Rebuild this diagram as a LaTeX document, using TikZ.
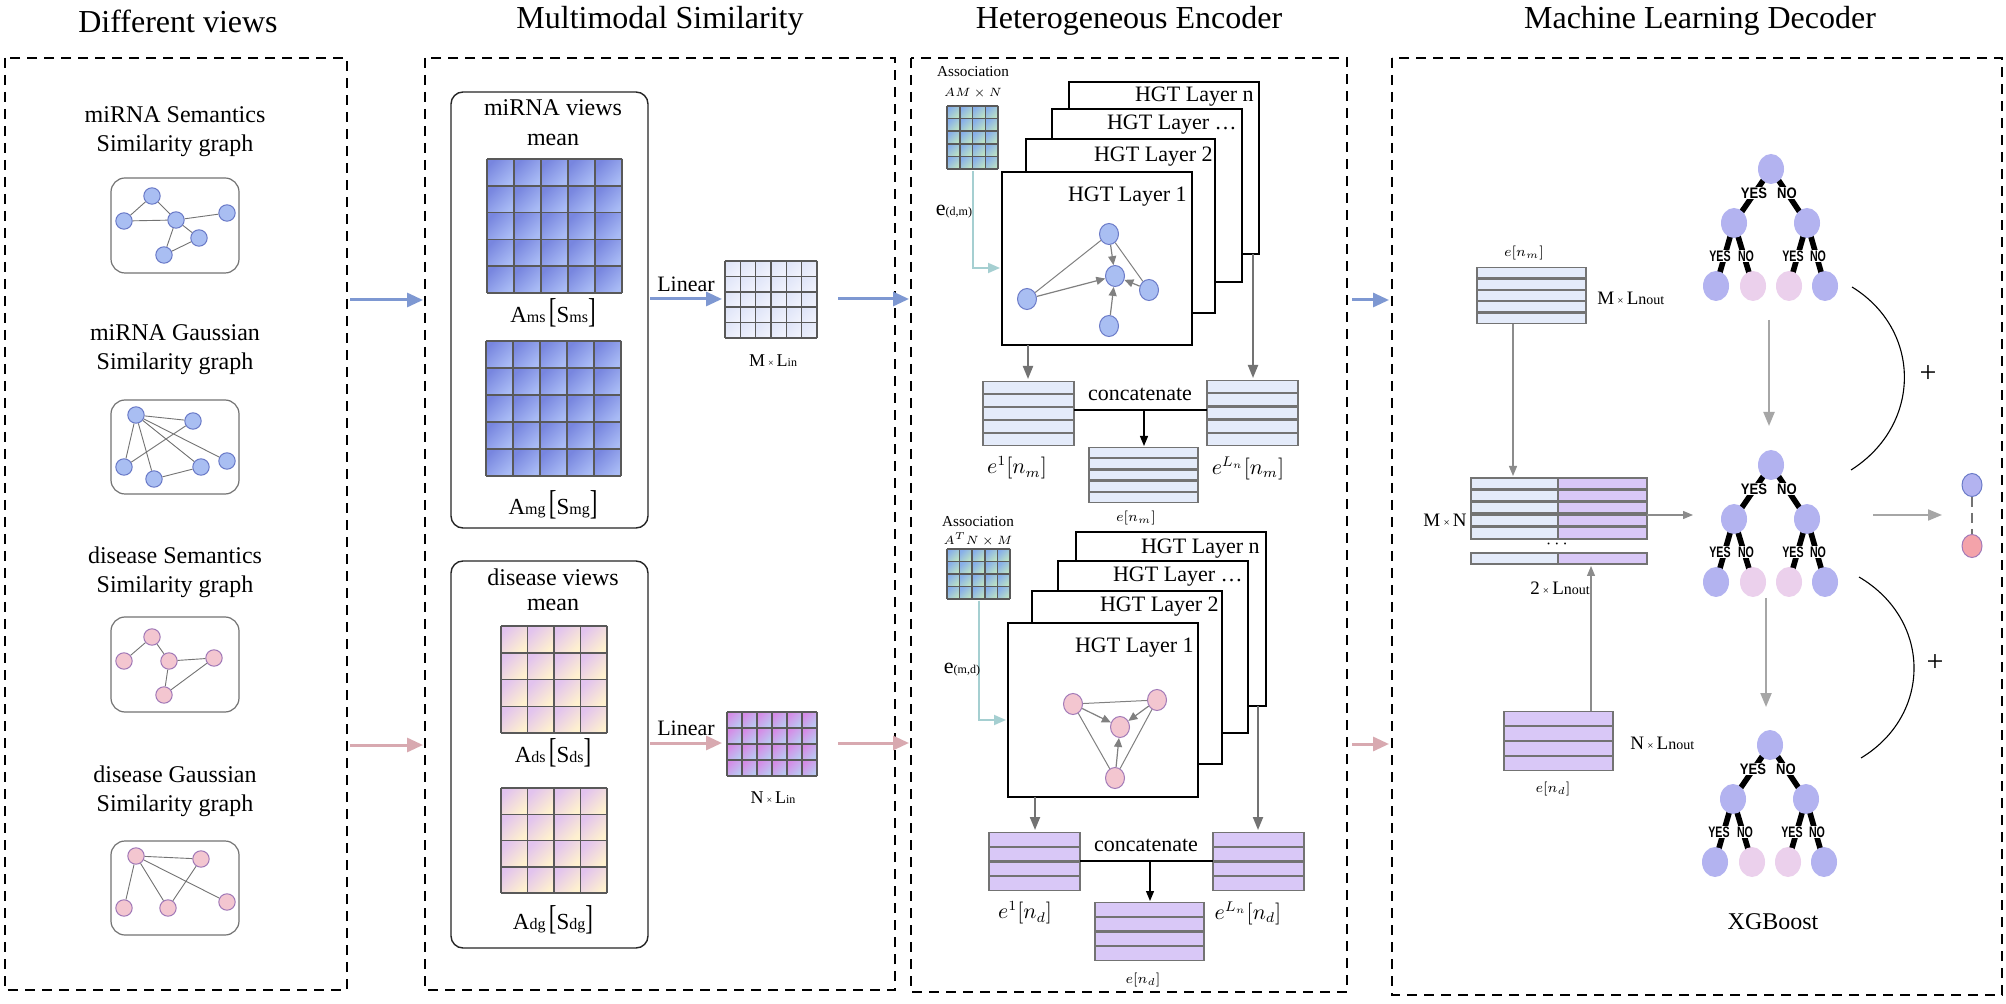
\documentclass[tikz,border=0pt]{standalone}
\usepackage{fontspec}
\usepackage{graphicx}
\setmainfont{Liberation Serif}
\newfontfamily\yesfont{Liberation Sans}
\usetikzlibrary{arrows.meta,shapes.geometric,backgrounds}

\definecolor{gnodeB}{HTML}{A9BEF2}
\definecolor{gnodeBd}{HTML}{6B7BC8}
\definecolor{gnodeP}{HTML}{F3C6D0}
\definecolor{gnodePd}{HTML}{A27AB8}
\definecolor{arrB}{HTML}{7E98D2}
\definecolor{arrP}{HTML}{D8A9B0}
\definecolor{matBa}{HTML}{7886DF}
\definecolor{matBb}{HTML}{A9BBF5}
\definecolor{matDa}{HTML}{E2C3EE}
\definecolor{matDb}{HTML}{FFF1CF}
\definecolor{matNa}{HTML}{D58BE6}
\definecolor{matNb}{HTML}{B9CBF2}
\definecolor{matMa}{HTML}{E0E5F8}
\definecolor{matMb}{HTML}{F0F2FC}
\definecolor{matAa}{HTML}{86AEEA}
\definecolor{matAb}{HTML}{BDE3C4}
\definecolor{barB}{HTML}{E4EBFA}
\definecolor{barP}{HTML}{D9C8F7}
\definecolor{treeB}{HTML}{B3B3F0}
\definecolor{treeP}{HTML}{EBD0EC}
\definecolor{outP}{HTML}{F4A3AA}
\definecolor{tealc}{HTML}{A5CFD1}

\tikzset{
 panel/.style={draw=black, line width=1pt, dash pattern=on 5pt off 3.5pt},
 ptitle/.style={font=\fontsize{16}{18}\selectfont, inner sep=0},
 lbl/.style={font=\fontsize{12}{14.5}\selectfont, align=center, inner sep=0},
 gbox/.style={draw=black!55, line width=0.6pt, rounded corners=7pt},
 vbox/.style={draw=black!85, line width=0.7pt, rounded corners=6pt},
 gnb/.style={circle, draw=gnodeBd, fill=gnodeB, line width=0.5pt, minimum size=8.2pt, inner sep=0},
 gnp/.style={circle, draw=gnodePd, fill=gnodeP, line width=0.5pt, minimum size=8.2pt, inner sep=0},
 gedge/.style={draw=black!55, line width=0.45pt},
 hnb/.style={ellipse, draw=gnodeBd, fill=gnodeB, line width=0.5pt, minimum width=9.5pt, minimum height=10.5pt, inner sep=0},
 hnp/.style={ellipse, draw=gnodePd, fill=gnodeP, line width=0.5pt, minimum width=9.5pt, minimum height=10.5pt, inner sep=0},
 hedge/.style={draw=black!50, line width=0.5pt},
 harr/.style={draw=black!50, line width=0.6pt, -{Triangle[length=4.5pt,width=4pt]}},
 gridline/.style={draw=black!65, line width=0.75pt},
 barrow/.style={draw=arrB, line width=1.5pt, -{Triangle[length=8pt,width=7pt]}},
 parrow/.style={draw=arrP, line width=1.5pt, -{Triangle[length=8pt,width=7pt]}},
 garrow/.style={draw=black!55, line width=1pt, -{Triangle[length=6.5pt,width=5pt]}},
 karrow/.style={draw=black, line width=0.6pt, -{Triangle[length=5pt,width=4pt]}},
 tarrow/.style={draw=tealc, line width=0.9pt, -{Triangle[length=6pt,width=5pt]}},
 larrow/.style={draw=black!45, line width=0.6pt, -{Triangle[length=5pt,width=4pt]}},
 darrow/.style={draw=black!35, line width=1pt, -{Triangle[length=7pt,width=5.5pt]}},
 layer/.style={draw=black, fill=white, line width=0.7pt},
 hgt/.style={font=\fontsize{11}{12}\selectfont, anchor=east, inner sep=0},
 bar/.style={draw=black!55, line width=0.6pt},
 tn/.style={ellipse, fill=treeB, minimum width=13pt, minimum height=15pt, inner sep=0},
 tp/.style={ellipse, fill=treeP, minimum width=13pt, minimum height=15pt, inner sep=0},
 tedge/.style={draw=black, line width=2.8pt},
 yn/.style={font=\yesfont\bfseries\fontsize{7.6}{8}\selectfont, fill=white, inner sep=0.3pt},
 txt/.style={inner sep=0},
}

% grid of shaded cells: x0 y0 x1 y1 cols rows colA colB
\newcommand{\cellgrid}[8]{%
 \pgfmathsetmacro\gcw{(#3-#1)/#5}%
 \pgfmathsetmacro\gch{(#4-#2)/#6}%
 \foreach \i in {1,...,#5}{\foreach \j in {1,...,#6}{%
   \shade[top color=#7, bottom color=#8, shading angle=45] ({#1+(\i-1)*\gcw},{#2+(\j-1)*\gch}) rectangle ({#1+\i*\gcw},{#2+\j*\gch});}}%
 \foreach \i in {0,...,#5}{\draw[gridline] ({#1+\i*\gcw},#2) -- ({#1+\i*\gcw},#4);}%
 \foreach \j in {0,...,#6}{\draw[gridline] (#1,{#2+\j*\gch}) -- (#3,{#2+\j*\gch});}%
}
% stack of bars: x0 y0 x1 y1 n colour
\newcommand{\barstack}[6]{%
 \pgfmathsetmacro\bsh{(#4-#2)/#5}%
 \foreach \k in {1,...,#5}{%
   \filldraw[bar, fill=#6] (#1,{#2+(\k-1)*\bsh+0.6}) rectangle (#3,{#2+\k*\bsh-0.6});}%
}
% XGBoost tree: prefix cx cy
\newcommand{\xgtree}[3]{%
 \node[tn] (#1r) at (#2,#3) {};
 \node[tn] (#1a) at ({#2-37},{#3+54}) {};
 \node[tn] (#1b) at ({#2+36},{#3+54}) {};
 \node[tn] (#1c) at ({#2-55},{#3+117}) {};
 \node[tp] (#1d) at ({#2-18},{#3+117}) {};
 \node[tp] (#1e) at ({#2+18},{#3+117}) {};
 \node[tn] (#1f) at ({#2+54},{#3+117}) {};
 \begin{scope}[on background layer]
  \draw[tedge] (#1r.center) -- (#1a.center);
  \draw[tedge] (#1r.center) -- (#1b.center);
  \draw[tedge] (#1a.center) -- (#1c.center);
  \draw[tedge] (#1a.center) -- (#1d.center);
  \draw[tedge] (#1b.center) -- (#1e.center);
  \draw[tedge] (#1b.center) -- (#1f.center);
  \node[yn] (#1ya) at ({#2-17},{#3+24}) {\scalebox{0.86}[1]{YES}};
  \node[yn] (#1na) at ({#2+16},{#3+24}) {\scalebox{0.86}[1]{NO}};
  \node[yn] (#1yb) at ({#2-51},{#3+87}) {\scalebox{0.7}[1]{YES}};
  \node[yn] (#1nb) at ({#2-25},{#3+87}) {\scalebox{0.7}[1]{NO}};
  \node[yn] (#1yc) at ({#2+22},{#3+87}) {\scalebox{0.7}[1]{YES}};
  \node[yn] (#1nc) at ({#2+47},{#3+87}) {\scalebox{0.7}[1]{NO}};
 \end{scope}
}
\newcommand{\Abr}[2]{{\fontsize{11.5}{12}\selectfont A}{\fontsize{8}{9}\selectfont #1}\,{\fontsize{11.5}{12}\selectfont\scalebox{1}[1.5]{[}S}{\fontsize{8}{9}\selectfont #2}{\fontsize{11.5}{12}\selectfont\scalebox{1}[1.5]{]}}}
\newcommand{\dimlbl}[2]{{\fontsize{9}{10}\selectfont #1\,{\fontsize{5}{6}\selectfont ×}\,L{\fontsize{6}{7}\selectfont #2}}}
\newcommand{\outlbl}[1]{{\fontsize{9.5}{10}\selectfont #1\,{\fontsize{5.5}{6}\selectfont ×}\,L{\fontsize{8}{8}\selectfont n}{\fontsize{7}{7}\selectfont out}}}

\begin{document}
\begin{tikzpicture}[x=0.5pt,y=-0.5pt]
\begin{scope}[on background layer]
\fill[white] (0,0) rectangle (2006,1004);
\end{scope}
\useasboundingbox (0,0) rectangle (2006,1004);

% ---------------- panels and titles
\draw[panel] (5,58) rectangle (347,990);
\draw[panel] (425,58) rectangle (895,990);
\draw[panel] (911,58) rectangle (1347,992);
\draw[panel] (1392,58) rectangle (2002,995);
\node[ptitle] (t1) at (178,21) {Different views};
\node[ptitle] (t2) at (660,21) {Multimodal Similarity};
\node[ptitle] (t3) at (1129,21) {Heterogeneous Encoder};
\node[ptitle] (t4) at (1700,21) {Machine Learning Decoder};

% ---------------- panel 1: views
\node[lbl] (l1) at (175,132) {miRNA Semantics\\Similarity graph};
\node[lbl] (l2) at (175,350) {miRNA Gaussian\\Similarity graph};
\node[lbl] (l3) at (175,572) {disease Semantics\\Similarity graph};
\node[lbl] (l4) at (175,791) {disease Gaussian\\Similarity graph};
\draw[gbox] (111,178) rectangle (239,273);
\draw[gbox] (111,400) rectangle (239,494);
\draw[gbox] (111,617) rectangle (239,712);
\draw[gbox] (111,841) rectangle (239,935);

\node[gnb] (a1) at (152,196) {};
\node[gnb] (a2) at (124,221) {};
\node[gnb] (a3) at (176,220) {};
\node[gnb] (a4) at (227,213) {};
\node[gnb] (a5) at (199,238) {};
\node[gnb] (a6) at (164,255) {};
\draw[gedge] (a1)--(a2) (a1)--(a3) (a2)--(a3) (a3)--(a4) (a3)--(a5) (a3)--(a6) (a6)--(a5);

\node[gnb] (b1) at (136,415) {};
\node[gnb] (b2) at (193,421) {};
\node[gnb] (b3) at (124,467) {};
\node[gnb] (b4) at (154,479) {};
\node[gnb] (b5) at (201,467) {};
\node[gnb] (b6) at (227,461) {};
\draw[gedge] (b1)--(b2) (b1)--(b3) (b1)--(b4) (b1)--(b5) (b1)--(b6) (b3)--(b2) (b4)--(b5);

\node[gnp] (c1) at (152,637) {};
\node[gnp] (c2) at (124,661) {};
\node[gnp] (c3) at (169,661) {};
\node[gnp] (c4) at (214,658) {};
\node[gnp] (c5) at (164,695) {};
\draw[gedge] (c2)--(c1) (c1)--(c3) (c3)--(c4) (c3)--(c5) (c5)--(c4);

\node[gnp] (d1) at (136,856) {};
\node[gnp] (d2) at (201,859) {};
\node[gnp] (d3) at (124,908) {};
\node[gnp] (d4) at (168,908) {};
\node[gnp] (d5) at (227,902) {};
\draw[gedge] (d1)--(d2) (d1)--(d3) (d1)--(d4) (d1)--(d5) (d4)--(d2);

% arrows panel1 -> panel2
\coordinate (p1b) at (350,300);
\coordinate (p2b) at (423,300);
\coordinate (p1p) at (350,745);
\coordinate (p2p) at (423,745);
\draw[barrow] (p1b) -- (p2b);
\draw[parrow] (p1p) -- (p2p);

% ---------------- panel 2: multimodal similarity
\draw[vbox] (451,92) rectangle (648,528);
\node[lbl] (mv) at (553,108) {miRNA views};
\node[lbl] (mm) at (553,140) {mean};
\cellgrid{487}{159}{622}{293}{5}{5}{matBa}{matBb}
\node[txt] (ams) at (553,313) {\Abr{ms}{ms}};
\cellgrid{486}{341}{621}{476}{5}{5}{matBa}{matBb}
\node[txt] (amg) at (553,505) {\Abr{mg}{mg}};

\draw[vbox] (451,561) rectangle (648,948);
\node[lbl] (dv) at (553,577) {disease views};
\node[lbl] (dm) at (553,605) {mean};
\cellgrid{501}{626}{607}{733}{4}{4}{matDa}{matDb}
\node[txt] (ads) at (553,753) {\Abr{ds}{ds}};
\cellgrid{501}{788}{607}{893}{4}{4}{matDa}{matDb}
\node[txt] (adg) at (553,920) {\Abr{dg}{dg}};

\coordinate (lin1s) at (650,299);
\coordinate (lin1e) at (722,299);
\draw[barrow] (lin1s) -- node[above=3pt, font=\fontsize{11}{12}\selectfont, inner sep=0] (lin1) {Linear} (lin1e);
\coordinate (lin2s) at (650,743);
\coordinate (lin2e) at (722,743);
\draw[parrow] (lin2s) -- node[above=3pt, font=\fontsize{11}{12}\selectfont, inner sep=0] (lin2) {Linear} (lin2e);

\cellgrid{725}{261}{817}{338}{6}{5}{matMa}{matMb}
\node[txt] (mlin) at (773,361) {\dimlbl{M}{in}};
\cellgrid{727}{712}{817}{776}{6}{4}{matNa}{matNb}
\node[txt] (nlin) at (773,798) {\dimlbl{N}{in}};

% arrows panel2 -> panel3
\coordinate (p2bo) at (838,299);
\coordinate (p3b) at (909,299);
\coordinate (p2po) at (838,743);
\coordinate (p3p) at (909,743);
\draw[barrow] (p2bo) -- (p3b);
\draw[parrow] (p2po) -- (p3p);

% ---------------- panel 3: heterogeneous encoder (top, miRNA)
\node[txt, font=\fontsize{7.6}{8}\selectfont] (as1) at (973,72) {Association};
\node[txt, font=\fontsize{6}{7}\selectfont] (as1d) at (973,93) {$AM\times N$};
\cellgrid{947}{106}{998}{169}{4}{5}{matAa}{matAb}
\coordinate (te1a) at (973,171);
\coordinate (te1b) at (973,268);
\coordinate (te1c) at (1000,268);
\draw[tarrow] (te1a) -- (te1b) -- (te1c);
\node[txt] (edm) at (954,212) {{\fontsize{11}{12}\selectfont e}{\fontsize{6}{7}\selectfont(d,m)}};

\draw[layer] (1069,82) rectangle (1259,254);
\node[hgt] (hn1) at (1254,97) {HGT Layer n};
\draw[layer] (1052,109) rectangle (1242,282);
\node[hgt] (hd1) at (1237,125) {HGT Layer \ldots};
\draw[layer] (1026,139) rectangle (1215,313);
\node[hgt] (h21) at (1213,157) {HGT Layer 2};
\draw[layer] (1002,172) rectangle (1192,345);
\node[hgt] (h11) at (1187,197) {HGT Layer 1};

\node[hnb] (h1) at (1109,234) {};
\node[hnb] (h2) at (1115,276) {};
\node[hnb] (h3) at (1149,290) {};
\node[hnb] (h4) at (1027,299) {};
\node[hnb] (h5) at (1109,326) {};
\draw[hedge] (h1) -- (h4);
\draw[hedge] (h1) -- (h3);
\draw[harr] (h1) -- (h2);
\draw[harr] (h4) -- (h2);
\draw[harr] (h3) -- (h2);
\draw[harr] (h5) -- (h2);

\coordinate (g1a) at (1028,345);
\coordinate (g1b) at (1028,379);
\coordinate (g2a) at (1253,254);
\coordinate (g2b) at (1253,378);
\draw[garrow] (g1a) -- (g1b);
\draw[garrow] (g2a) -- (g2b);

\barstack{983}{381}{1074}{446}{5}{barB}
\barstack{1207}{380}{1298}{446}{5}{barB}
\barstack{1089}{447}{1198}{503}{5}{barB}
\coordinate (cc1l) at (1074,410);
\coordinate (cc1r) at (1207,410);
\coordinate (cc1m) at (1144,410);
\coordinate (cc1e) at (1144,446);
\draw[black, line width=0.6pt] (cc1l) -- (cc1r);
\draw[karrow] (cc1m) -- (cc1e);
\node[txt, font=\fontsize{11}{12}\selectfont] (cat1) at (1140,394) {concatenate};
\node[txt, font=\fontsize{10.5}{12}\selectfont] (e1m) at (1017,468) {$e^1[n_m]$};
\node[txt, font=\fontsize{10.5}{12}\selectfont] (eLm) at (1248,468) {$e^{L_n}[n_m]$};
\node[txt, font=\fontsize{7}{8}\selectfont] (em) at (1136,518) {$e[n_m]$};

% ---------------- panel 3 (bottom, disease)
\node[txt, font=\fontsize{7.6}{8}\selectfont] (as2) at (978,522) {Association};
\node[txt, font=\fontsize{6}{7}\selectfont] (as2d) at (978,539) {$A^TN\times M$};
\cellgrid{947}{549}{1010}{599}{5}{4}{matAa}{matAb}
\coordinate (te2a) at (979,601);
\coordinate (te2b) at (979,720);
\coordinate (te2c) at (1006,720);
\draw[tarrow] (te2a) -- (te2b) -- (te2c);
\node[txt] (emd) at (962,670) {{\fontsize{11}{12}\selectfont e}{\fontsize{6}{7}\selectfont(m,d)}};

\draw[layer] (1076,532) rectangle (1266,706);
\node[hgt] (hn2) at (1260,549) {HGT Layer n};
\draw[layer] (1058,561) rectangle (1248,733);
\node[hgt] (hd2) at (1243,577) {HGT Layer \ldots};
\draw[layer] (1032,591) rectangle (1222,764);
\node[hgt] (h22) at (1219,607) {HGT Layer 2};
\draw[layer] (1008,623) rectangle (1198,797);
\node[hgt] (h12) at (1194,648) {HGT Layer 1};

\node[hnp] (k1) at (1073,704) {};
\node[hnp] (k2) at (1157,700) {};
\node[hnp] (k3) at (1120,727) {};
\node[hnp] (k4) at (1115,778) {};
\draw[hedge] (k1) -- (k2);
\draw[hedge] (k1) -- (k4);
\draw[hedge] (k2) -- (k4);
\draw[harr] (k1) -- (k3);
\draw[harr] (k2) -- (k3);
\draw[harr] (k4) -- (k3);

\coordinate (g3a) at (1035,797);
\coordinate (g3b) at (1035,830);
\coordinate (g4a) at (1258,706);
\coordinate (g4b) at (1258,830);
\draw[garrow] (g3a) -- (g3b);
\draw[garrow] (g4a) -- (g4b);

\barstack{989}{832}{1080}{891}{4}{barP}
\barstack{1213}{832}{1304}{891}{4}{barP}
\barstack{1095}{902}{1204}{961}{4}{barP}
\coordinate (cc2l) at (1080,861);
\coordinate (cc2r) at (1213,861);
\coordinate (cc2m) at (1150,861);
\coordinate (cc2e) at (1150,901);
\draw[black, line width=0.6pt] (cc2l) -- (cc2r);
\draw[karrow] (cc2m) -- (cc2e);
\node[txt, font=\fontsize{11}{12}\selectfont] (cat2) at (1146,845) {concatenate};
\node[txt, font=\fontsize{10.5}{12}\selectfont] (e1d) at (1025,913) {$e^1[n_d]$};
\node[txt, font=\fontsize{10.5}{12}\selectfont] (eLd) at (1248,913) {$e^{L_n}[n_d]$};
\node[txt, font=\fontsize{7}{8}\selectfont] (ed) at (1143,980) {$e[n_d]$};

% arrows panel3 -> panel4
\coordinate (p3bo) at (1352,300);
\coordinate (p4b) at (1389,300);
\coordinate (p3po) at (1352,744);
\coordinate (p4p) at (1389,744);
\draw[barrow] (p3bo) -- (p4b);
\draw[parrow] (p3po) -- (p4p);

% ---------------- panel 4: decoder
\node[txt, font=\fontsize{7}{8}\selectfont] (enm) at (1524,253) {$e[n_m]$};
\barstack{1477}{267}{1586}{324}{5}{barB}
\node[txt, anchor=west] (mlo) at (1597,298) {\outlbl{M}};

\foreach \yy/\yb in {478/489,490/501,502/513,515/526,527/539,553/564}{
  \filldraw[bar, fill=barB] (1471,\yy) rectangle (1558,\yb);
  \filldraw[bar, fill=barP] (1558,\yy) rectangle (1647,\yb);
}
\node[txt, font=\fontsize{9}{10}\selectfont] (dots) at (1557,544) {$\cdots$};
\node[txt, anchor=east] (mxn) at (1467,520) {{\fontsize{9.5}{10}\selectfont M\,{\fontsize{5.5}{6}\selectfont ×}\,N}};
\node[txt] (two) at (1560,588) {\outlbl{2}};

\barstack{1504}{711}{1613}{771}{4}{barP}
\node[txt, anchor=west] (nlo) at (1630,743) {\outlbl{N}};
\node[txt, font=\fontsize{7}{8}\selectfont] (end) at (1553,789) {$e[n_d]$};

\coordinate (s1a) at (1513,324);
\coordinate (s1b) at (1513,476);
\coordinate (s2a) at (1591,711);
\coordinate (s2b) at (1591,566);
\coordinate (s3a) at (1647,515);
\coordinate (s3b) at (1693,515);
\draw[larrow] (s1a) -- (s1b);
\draw[larrow] (s2a) -- (s2b);
\draw[larrow] (s3a) -- (s3b);

\xgtree{ta}{1771}{169}
\xgtree{tb}{1771}{465}
\xgtree{tc}{1770}{745}
\node[txt, font=\fontsize{12}{14}\selectfont] (xgb) at (1773,922) {XGBoost};

\coordinate (d1a) at (1769,320);
\coordinate (d1b) at (1769,426);
\coordinate (d2a) at (1766,598);
\coordinate (d2b) at (1766,707);
\draw[darrow] (d1a) -- (d1b);
\draw[darrow] (d2a) -- (d2b);

\coordinate (arc1a) at (1852,287);
\coordinate (arc1b) at (1851,470);
\coordinate (arc2a) at (1859,577);
\coordinate (arc2b) at (1861,758);
\draw[black, line width=0.55pt] (arc1a) .. controls (1922,330) and (1922,425) .. (arc1b);
\draw[black, line width=0.55pt] (arc2a) .. controls (1932,620) and (1932,715) .. (arc2b);
\node[txt, font=\fontsize{15}{15}\selectfont] (plus1) at (1928,374) {+};
\node[txt, font=\fontsize{15}{15}\selectfont] (plus2) at (1935,663) {+};

\coordinate (o1a) at (1873,515);
\coordinate (o1b) at (1942,515);
\draw[darrow] (o1a) -- (o1b);
\node[ellipse, draw=gnodeBd, fill=treeB, line width=0.5pt, minimum width=10pt, minimum height=11.5pt, inner sep=0] (ou1) at (1972,485) {};
\node[ellipse, draw=gnodePd, fill=outP, line width=0.5pt, minimum width=10pt, minimum height=11.5pt, inner sep=0] (ou2) at (1972,546) {};
\draw[draw=black!55, line width=0.8pt, dash pattern=on 5pt off 3pt] (ou1) -- (ou2);
\end{tikzpicture}
\end{document}
